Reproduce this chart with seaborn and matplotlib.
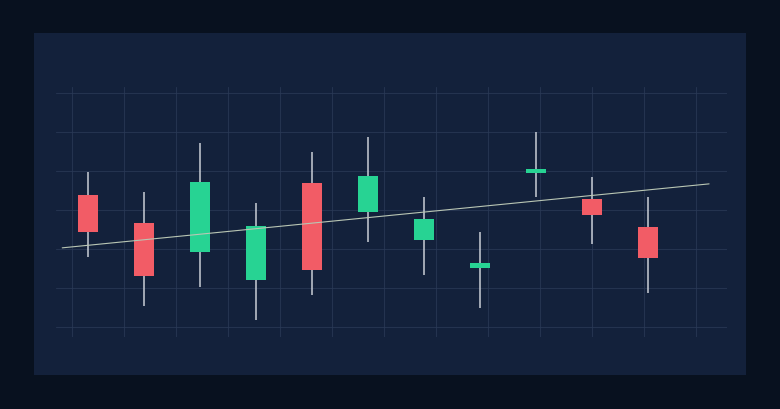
import numpy as np
import pandas as pd
import seaborn as sns
import matplotlib.pyplot as plt
from matplotlib.patches import Rectangle

# candle data (index, open, high, low, close)
idx = list(range(11))
opens = [103.8, 96.7, 89.2, 82.1, 106.9, 99.5, 92.3, 85.1, 109.6, 102.8, 95.6]
highs = [109.7, 104.6, 117.2, 101.8, 114.9, 118.7, 103.3, 94.4, 120.0, 108.5, 103.3]
lows = [88.0, 75.4, 80.3, 71.8, 78.2, 91.8, 83.3, 74.9, 103.3, 91.3, 78.7]
closes = [94.4, 83.1, 107.2, 95.9, 84.6, 108.7, 97.7, 86.4, 110.4, 98.7, 87.7]

# trend line end points
trend_x = [-0.46, 11.09]
trend_y = [90.3, 106.7]

y_ticks = [70, 80, 90, 100, 110, 120, 130]

df = pd.DataFrame({"i": idx, "open": opens, "high": highs, "low": lows, "close": closes})
df["up"] = df["close"] >= df["open"]

sns.set_theme(style="dark")
bg = "#08111f"
panel = "#13213b"
green = "#27d393"
red = "#f25c66"

fig = plt.figure(figsize=(7.8, 4.1), dpi=100, facecolor=bg)
fig.patches.append(Rectangle((34 / 780, 34 / 410), 712 / 780, 342 / 410,
                             transform=fig.transFigure, facecolor=panel,
                             edgecolor="none", zorder=-5))

ax = fig.add_axes([56 / 780, 72 / 410, 671 / 780, 250 / 410])
ax.set_zorder(2)
ax.set_facecolor("none")
for s in ax.spines.values():
    s.set_visible(False)

ax.set_xlim(-0.571, 11.41)
ax.set_ylim(67.44, 131.54)
ax.set_xticks(np.linspace(-0.2857, 10.857, 13))
ax.set_yticks(y_ticks)
ax.tick_params(length=0, labelbottom=False, labelleft=False)
ax.grid(True, color="#2a3a57", linewidth=0.8, alpha=0.75)
ax.set_axisbelow(True)

# wicks
ax.vlines(df["i"], df["low"], df["high"], color="#c9ced6", linewidth=1.1, zorder=2)

# bodies
colors = [green if u else red for u in df["up"]]
bottoms = np.minimum(df["open"], df["close"])
heights = np.abs(df["close"] - df["open"])
ax.bar(df["i"], heights, bottom=bottoms, width=0.35, color=colors,
       edgecolor="none", linewidth=0, zorder=3)

sns.lineplot(x=trend_x, y=trend_y, ax=ax, color="#b9c6b4", linewidth=0.8, zorder=4)

fig.savefig("out.png", dpi=100, facecolor=bg)
